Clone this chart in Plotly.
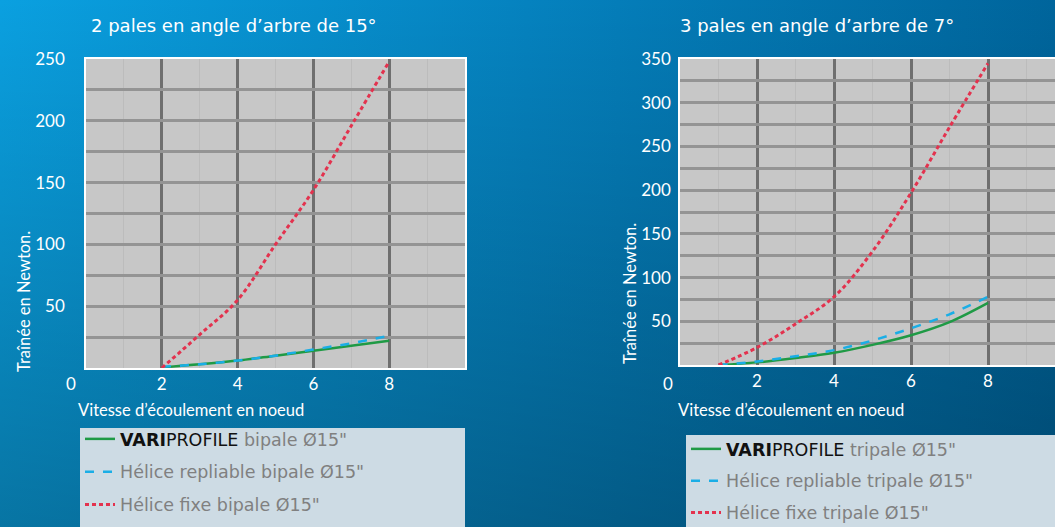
import base64
import plotly.graph_objects as go

# ---------------- data ----------------
speed_left = [2, 3, 4, 5, 6, 7, 8]
vari_bi = [0.5, 3, 6, 10, 14, 18, 22]
repl_bi = [1, 3, 6, 10, 15, 20, 26]
fixe_bi = [0, 27, 55, 100, 144, 196, 248]

speed_right = [1, 2, 3, 4, 5, 6, 7, 8]
vari_tri = [0, 3, 8, 14, 23, 34, 49, 71]
repl_tri = [0, 4, 10, 17, 28, 42, 58, 78]
fixe_tri = [0, 20, 47, 78, 130, 197, 272, 345]

x_ticks = [2, 4, 6, 8]
y_ticks_left = [25, 50, 75, 100, 125, 150, 175, 200, 225, 250]
y_ticks_right = [25, 50, 75, 100, 125, 150, 175, 200, 225, 250, 275, 300, 325, 350]

title_left = "2 pales en angle d’arbre de 15°"
title_right = "3 pales en angle d’arbre de 7°"
x_title = "Vitesse d’écoulement en noeud"
y_title = "Traînée en Newton."

W, H = 1055, 527
FONT = "Lato"
WIDE = "DejaVu Sans"
GREEN = "#1f9a45"
CYAN = "#1aaee6"
RED = "#e3324e"

# ---------------- background gradient ----------------
svg = (
    f'<svg xmlns="http://www.w3.org/2000/svg" width="{W}" height="{H}" preserveAspectRatio="none">'
    '<defs>'
    '<linearGradient id="h" x1="0" y1="0" x2="1" y2="0">'
    '<stop offset="0" stop-color="#0aa0e0"/>'
    '<stop offset="0.5" stop-color="#0582bf"/>'
    '<stop offset="1" stop-color="#00659c"/>'
    '</linearGradient>'
    '<linearGradient id="v" x1="0" y1="0" x2="0" y2="1">'
    '<stop offset="0" stop-color="#000" stop-opacity="0"/>'
    '<stop offset="1" stop-color="#000" stop-opacity="0.27"/>'
    '</linearGradient>'
    '</defs>'
    f'<rect width="{W}" height="{H}" fill="url(#h)"/>'
    f'<rect width="{W}" height="{H}" fill="url(#v)"/>'
    '</svg>'
)
bg_src = "data:image/svg+xml;base64," + base64.b64encode(svg.encode()).decode()

fig = go.Figure()

def vari(t):
    return f"<span style='color:#111111'><b>VARI</b>PROFILE</span> {t}"

# left traces
fig.add_trace(go.Scatter(x=speed_left, y=vari_bi, mode="lines", line=dict(color=GREEN, width=2.5),
                         name=vari("bipale Ø15\""), legend="legend", legendgroup="a",
                         xaxis="x", yaxis="y", line_shape="spline"))
fig.add_trace(go.Scatter(x=speed_left, y=repl_bi, mode="lines", line=dict(color=CYAN, width=2.5, dash="9px,9px"),
                         name="Hélice repliable bipale Ø15\"", legend="legend", legendgroup="b",
                         xaxis="x", yaxis="y", line_shape="spline"))
fig.add_trace(go.Scatter(x=speed_left, y=fixe_bi, mode="lines", line=dict(color=RED, width=3, dash="4px,3px"),
                         name="Hélice fixe bipale Ø15\"", legend="legend", legendgroup="c",
                         xaxis="x", yaxis="y", line_shape="spline"))
# right traces
fig.add_trace(go.Scatter(x=speed_right, y=vari_tri, mode="lines", line=dict(color=GREEN, width=2.5),
                         name=vari("tripale Ø15\""), legend="legend2", legendgroup="d",
                         xaxis="x2", yaxis="y2", line_shape="spline"))
fig.add_trace(go.Scatter(x=speed_right, y=repl_tri, mode="lines", line=dict(color=CYAN, width=2.5, dash="9px,9px"),
                         name="Hélice repliable tripale Ø15\"", legend="legend2", legendgroup="e",
                         xaxis="x2", yaxis="y2", line_shape="spline"))
fig.add_trace(go.Scatter(x=speed_right, y=fixe_tri, mode="lines", line=dict(color=RED, width=3, dash="4px,3px"),
                         name="Hélice fixe tripale Ø15\"", legend="legend2", legendgroup="f",
                         xaxis="x2", yaxis="y2", line_shape="spline"))

def ylabels(vals):
    return [str(v) if v % 50 == 0 else "" for v in vals]

axis_common = dict(
    showline=True, linecolor="white", linewidth=1.5, mirror=True,
    zeroline=False, ticks="", tickfont=dict(family=FONT, size=17, color="white"),
)
minor_x = dict(tickvals=[1, 3, 5, 7, 9], showgrid=True, gridcolor="#bcbcbc", gridwidth=1)

x_left_dom = [86 / W, 465 / W]
x_right_dom = [680 / W, 1.0]
y_left_dom = [1 - 368 / H, 1 - 59 / H]
y_right_dom = [1 - 365 / H, 1 - 59 / H]

legend_font = dict(family=WIDE, size=17.5, color="#808080")

fig.update_layout(
    width=W, height=H,
    margin=dict(l=0, r=0, t=0, b=0, autoexpand=False),
    paper_bgcolor="#0582bf",
    plot_bgcolor="rgba(0,0,0,0)",
    font=dict(family=FONT, color="white"),
    images=[dict(source=bg_src, xref="paper", yref="paper", x=0, y=1, sizex=1, sizey=1,
                 xanchor="left", yanchor="top", sizing="stretch", layer="below")],
    xaxis=dict(domain=x_left_dom, range=[0, 10], tickvals=x_ticks, anchor="y",
               showgrid=True, gridcolor="#6f6f6f", gridwidth=3, ticklabelstandoff=0,
               minor=minor_x, **axis_common),
    yaxis=dict(domain=y_left_dom, range=[0, 250], tickvals=y_ticks_left, ticktext=ylabels(y_ticks_left),
               anchor="x", showgrid=True, gridcolor="#949494", gridwidth=3, ticklabelstandoff=16,
               **axis_common),
    xaxis2=dict(domain=x_right_dom, range=[0, 9.74], tickvals=x_ticks, anchor="y2",
                showgrid=True, gridcolor="#6f6f6f", gridwidth=3, ticklabelstandoff=0,
                minor=minor_x, **axis_common),
    yaxis2=dict(domain=y_right_dom, range=[0, 350], tickvals=y_ticks_right, ticktext=ylabels(y_ticks_right),
                anchor="x2", showgrid=True, gridcolor="#949494", gridwidth=3, ticklabelstandoff=4,
                **axis_common),
    legend=dict(x=80 / W, y=1 - 421 / H, xanchor="left", yanchor="top", bgcolor="rgba(0,0,0,0)",
                font=legend_font, tracegroupgap=7, itemwidth=30),
    legend2=dict(x=686 / W, y=1 - 431 / H, xanchor="left", yanchor="top", bgcolor="rgba(0,0,0,0)",
                 font=legend_font, tracegroupgap=6, itemwidth=30),
    shapes=[
        dict(type="rect", xref="x domain", yref="y domain", x0=0, x1=1, y0=0, y1=1,
             fillcolor="#c7c7c7", line=dict(width=0), layer="below"),
        dict(type="rect", xref="x2 domain", yref="y2 domain", x0=0, x1=1, y0=0, y1=1,
             fillcolor="#c7c7c7", line=dict(width=0), layer="below"),
        dict(type="rect", xref="paper", yref="paper", x0=80 / W, x1=465 / W, y0=-0.02, y1=1 - 428 / H,
             fillcolor="#cddbe4", line=dict(width=0), layer="above"),
        dict(type="rect", xref="paper", yref="paper", x0=686 / W, x1=1.0, y0=-0.02, y1=1 - 435 / H,
             fillcolor="#cddbe4", line=dict(width=0), layer="above"),
    ],
    showlegend=True,
)

def ann(text, x, y, size, family=FONT, **kw):
    return dict(text=text, xref="paper", yref="paper", x=x / W, y=1 - y / H, showarrow=False,
                xanchor="center", yanchor="middle", font=dict(family=family, size=size, color="white"), **kw)

annots = [
    ann(title_left, 234, 25, 18, WIDE),
    ann(title_right, 817, 25, 18, WIDE),
    ann(x_title, 191, 410, 16.5),
    ann(x_title, 791, 410, 16.5),
    ann(y_title, 24, 302, 16.5, textangle=-90),
    ann(y_title, 630, 294, 16.5, textangle=-90),
    dict(text="0", xref="x", yref="y", x=0, y=0, xshift=-15, yshift=-15, showarrow=False,
         xanchor="center", yanchor="middle", font=dict(family=FONT, size=17, color="white")),
    dict(text="0", xref="x2", yref="y2", x=0, y=0, xshift=-12, yshift=-18, showarrow=False,
         xanchor="center", yanchor="middle", font=dict(family=FONT, size=17, color="white")),
]
fig.update_layout(annotations=annots)

fig.write_html(
    "out.html",
    config={"displayModeBar": False},
    post_script="document.body.style.margin='0';document.body.style.overflow='hidden';"
                "document.body.style.background='#0582bf';",
)
